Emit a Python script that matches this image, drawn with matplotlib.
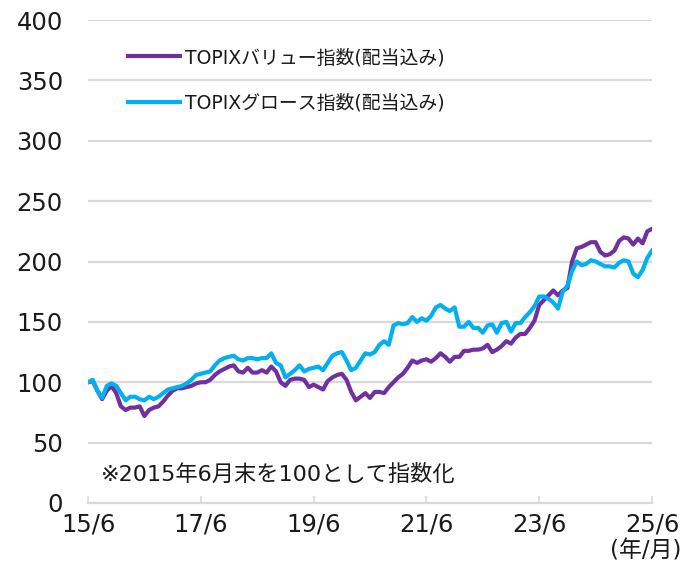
import matplotlib
matplotlib.use("Agg")
import matplotlib.pyplot as plt
import numpy as np

FONTS = ['DejaVu Sans', 'Noto Sans CJK JP']
plt.rcParams['font.family'] = FONTS

value_idx = [100, 101, 93, 86, 93, 97, 91, 80, 77, 79, 79, 80, 72, 77, 79, 80, 84, 89, 93, 95,
             95, 96, 97, 99, 100, 100, 102, 106, 109, 111, 113, 114, 109, 108, 112, 108, 108, 110, 108, 113,
             109, 100, 97, 102, 103, 103, 102, 96, 98, 96, 94, 101, 104, 106, 107, 102, 92, 85, 88, 91,
             87, 92, 92, 91, 96, 100, 104, 107, 112, 118, 116, 118, 119, 117, 120, 124, 121, 117, 121, 121,
             126, 126, 127, 127, 128, 131, 125, 127, 130, 134, 132, 137, 140, 140, 145, 151, 164, 168, 172, 176,
             172, 176, 178, 200, 211, 212, 214, 216, 216, 208, 205, 206, 209, 217, 220, 219, 214, 219, 215, 225,
             227]
growth_idx = [100, 102, 93, 87, 97, 99, 97, 91, 85, 88, 88, 86, 85, 88, 86, 88, 91, 94, 95, 96,
              97, 99, 102, 106, 107, 108, 109, 114, 118, 120, 121, 122, 119, 118, 120, 120, 119, 120, 120, 124,
              116, 114, 104, 107, 110, 114, 109, 111, 112, 113, 110, 116, 122, 124, 125, 118, 110, 112, 118, 124,
              123, 125, 131, 134, 131, 147, 149, 148, 149, 154, 150, 153, 151, 155, 162, 164, 161, 159, 162, 146,
              146, 150, 145, 145, 141, 147, 148, 141, 149, 150, 142, 149, 149, 154, 158, 163, 171, 171, 169, 166,
              161, 175, 180, 192, 200, 197, 198, 201, 200, 198, 196, 196, 195, 199, 201, 200, 190, 187, 193, 203,
              209]
tick_labels = ['15/6', '17/6', '19/6', '21/6', '23/6', '25/6']
series_names = ['TOPIXバリュー指数(配当込み)', 'TOPIXグロース指数(配当込み)']

fig = plt.figure(figsize=(6.97, 5.67), dpi=100)
ax = fig.add_axes([88/697, 64/567, (652-88)/697, (503-20)/567])

x = np.arange(len(value_idx))
ax.plot(x, value_idx, color='#7030A0', lw=3.0, label=series_names[0], solid_joinstyle='round')
ax.plot(x, growth_idx, color='#00B0F0', lw=3.0, label=series_names[1], solid_joinstyle='round')

ax.set_xlim(0, 120)
ax.set_ylim(0, 400)
ax.set_yticks(np.arange(0, 401, 50))
ax.set_xticks(np.arange(0, 121, 24))
ax.set_xticklabels(tick_labels)
ax.grid(axis='y', color='#d9d9d9', lw=1.6)
ax.set_axisbelow(True)
for s in ['top', 'right', 'left']:
    ax.spines[s].set_visible(False)
ax.spines['bottom'].set_color('#d9d9d9')
ax.spines['bottom'].set_linewidth(1.6)
ax.tick_params(axis='y', length=0, pad=18, labelsize=17.5, labelcolor='#1a1a1a')
ax.tick_params(axis='x', direction='in', length=5, width=1.2, color='#d9d9d9', pad=7,
               labelsize=17.5, labelcolor='#1a1a1a')

leg = ax.legend(loc='upper left', bbox_to_anchor=(0.071, 0.942), frameon=False,
                borderpad=0, borderaxespad=0,
                prop={'family': FONTS, 'size': 13.6},
                handlelength=2.75, handletextpad=0.28, labelspacing=1.4)
for t in leg.get_texts():
    t.set_color('#1a1a1a')

ax.text(101, 567 - 474, '※2015年6月末を100として指数化', transform=None,
        fontsize=16, va='center', ha='left', color='#1a1a1a', family=FONTS)
fig.text(681/697, 1 - 551/567, '(年/月)', fontsize=16.5, ha='right', va='center',
         color='#1a1a1a', family=FONTS)

fig.savefig('out.png', dpi=100)
